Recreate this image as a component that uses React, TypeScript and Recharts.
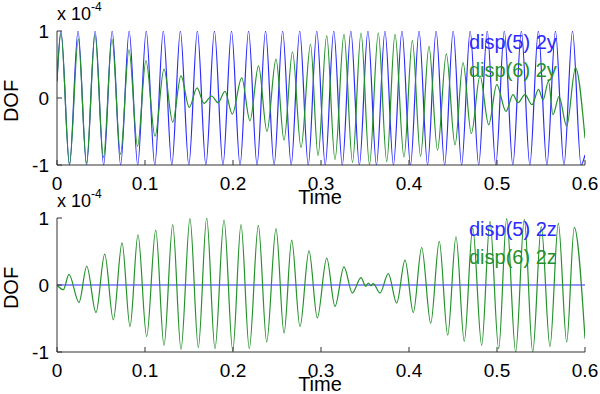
import { LineChart, Line, XAxis, YAxis, Legend, Label } from "recharts"

// time ticks / value ticks (values are in units of 1e-4)
const xTicks = [0, 0.1, 0.2, 0.3, 0.4, 0.5, 0.6]
const yTicks = [-1, 0, 1]

// top panel, disp(5) 2y: peaks and troughs
const topBlueT = [
  0, 0.0045, 0.0142, 0.0239, 0.0336, 0.0433, 0.053, 0.0627, 0.0723, 0.082, 0.0917,
  0.1014, 0.1111, 0.1208, 0.1305, 0.1402, 0.1498, 0.1595, 0.1692, 0.1789, 0.1886,
  0.1983, 0.208, 0.2177, 0.2273, 0.237, 0.2467, 0.2564, 0.2661, 0.2758, 0.2855,
  0.2952, 0.3048, 0.3145, 0.3242, 0.3339, 0.3436, 0.3533, 0.363, 0.3727, 0.3823,
  0.392, 0.4017, 0.4114, 0.4211, 0.4308, 0.4405, 0.4502, 0.4598, 0.4695, 0.4792,
  0.4889, 0.4986, 0.5083, 0.518, 0.5277, 0.5373, 0.547, 0.5567, 0.5664, 0.5761,
  0.5858, 0.5955, 0.6,
]
const topBlueV = [
  0.25, 1, -1, 1, -1, 1, -1, 1, -1, 1, -1,
  1, -1, 1, -1, 1, -1, 1, -1, 1, -1,
  1, -1, 1, -1, 1, -1, 1, -1, 1, -1,
  1, -1, 1, -1, 1, -1, 1, -1, 1, -1,
  1, -1, 1, -1, 1, -1, 1, -1, 1, -1,
  1, -1, 1, -1, 1, -1, 1, -1, 1, -1,
  1, -1, -0.85,
]

// top panel, disp(6) 2y
const topGreenT = [
  0, 0.0045, 0.0142, 0.0242, 0.0335, 0.0432, 0.0528, 0.0625, 0.0722, 0.0818, 0.0915,
  0.1011, 0.1114, 0.1216, 0.1315, 0.1409, 0.1503, 0.1591, 0.167, 0.1758, 0.183,
  0.1909, 0.1992, 0.2099, 0.2193, 0.229, 0.2386, 0.2489, 0.258, 0.2676, 0.2773,
  0.2881, 0.2966, 0.3065, 0.3159, 0.3261, 0.3358, 0.3455, 0.3551, 0.3651, 0.3747,
  0.3841, 0.3943, 0.4038, 0.4131, 0.4227, 0.4324, 0.4424, 0.4523, 0.4614, 0.4708,
  0.4807, 0.4906, 0.4997, 0.5102, 0.5182, 0.5239, 0.5318, 0.5398, 0.5472, 0.5523,
  0.5585, 0.5636, 0.5705, 0.5792, 0.5892, 0.6,
]
const topGreenV = [
  0.25, 0.97, -0.99, 0.88, -0.97, 0.94, -0.89, 0.88, -0.84, 0.72, -0.72,
  0.56, -0.57, 0.43, -0.36, 0.33, -0.14, 0.15, -0.08, 0.03, -0.07,
  0.1, -0.24, 0.3, -0.34, 0.48, -0.5, 0.58, -0.63, 0.69, -0.74,
  0.8, -0.86, 0.93, -0.92, 0.95, -0.96, 0.97, -0.99, 0.97, -0.95,
  0.95, -0.88, 0.86, -0.87, 0.77, -0.78, 0.66, -0.7, 0.53, -0.53,
  0.33, -0.4, 0.2, -0.2, 0.05, -0.07, 0.05, -0.1, 0.13, -0.03,
  0.25, -0.25, 0.02, -0.42, 0.45, -0.6,
]

// bottom panel, disp(5) 2z stays on zero
const bottomBlueT = [0, 0.6]
const bottomBlueV = [0, 0]

// bottom panel, disp(6) 2z
const bottomGreenT = [
  0, 0.0072, 0.0136, 0.025, 0.0338, 0.0443, 0.0542, 0.064, 0.0739, 0.083, 0.092,
  0.1019, 0.1122, 0.1216, 0.1315, 0.1409, 0.1511, 0.1606, 0.1701, 0.1795, 0.1898,
  0.1997, 0.2091, 0.2185, 0.2288, 0.2383, 0.2489, 0.258, 0.2667, 0.2761, 0.2864,
  0.2958, 0.3065, 0.3159, 0.3261, 0.3356, 0.3455, 0.3508, 0.3538, 0.3568, 0.3594,
  0.367, 0.3765, 0.386, 0.3955, 0.4049, 0.4144, 0.4247, 0.4344, 0.444, 0.4534,
  0.4628, 0.4724, 0.4826, 0.492, 0.5019, 0.511, 0.5212, 0.531, 0.5406, 0.5503,
  0.5602, 0.5697, 0.5792, 0.5878, 0.6,
]
const bottomGreenV = [
  0, -0.07, 0.16, -0.26, 0.28, -0.41, 0.46, -0.52, 0.63, -0.62, 0.75,
  -0.77, 0.82, -0.9, 0.9, -0.96, 0.99, -0.93, 1.0, -0.95, 0.97,
  -0.98, 0.9, -0.95, 0.89, -0.85, 0.84, -0.72, 0.67, -0.62, 0.51,
  -0.49, 0.4, -0.32, 0.27, -0.12, 0.11, -0.02, 0.03, -0.01, 0.02,
  -0.12, 0.17, -0.27, 0.37, -0.41, 0.56, -0.57, 0.65, -0.75, 0.72,
  -0.84, 0.85, -0.9, 0.95, -0.95, 0.99, -1.0, 0.98, -1.0, 0.87,
  -0.92, 0.92, -0.85, 0.86, -0.8,
]

type Pt = { t: number; v: number }

const zip = (ts: number[], vs: number[]): Pt[] => ts.map((t, i) => ({ t, v: vs[i] }))

const FONT = "'Liberation Sans', Arial, Helvetica, sans-serif"
const BLUE = "#2b2bff"
const GREEN = "#23922a"
const AXIS = "#333"

type PanelProps = {
  top: number
  height: number
  blue: Pt[]
  green: Pt[]
  blueName: string
  greenName: string
}

function Panel({ top, height, blue, green, blueName, greenName }: PanelProps) {
  const tickStyle = { fill: "#000", fontSize: 19, fontFamily: FONT }

  return (
    <div style={{ position: "absolute", left: 0, top }}>
      <LineChart width={600} height={height} margin={{ top: 31, right: 15, bottom: 0, left: 0 }}>
        <XAxis
          type="number"
          dataKey="t"
          domain={[0, 0.6]}
          ticks={xTicks}
          interval={0}
          allowDataOverflow
          height={height - 165}
          tickSize={-5}
          tickMargin={17}
          tick={tickStyle}
          axisLine={{ stroke: AXIS }}
          tickLine={{ stroke: AXIS }}
        >
          <Label
            content={() => (
              <text x={320} y={204} textAnchor="middle" fontSize={20} fontFamily={FONT} fill="#000">
                Time
              </text>
            )}
          />
        </XAxis>
        <YAxis
          type="number"
          domain={[-1, 1]}
          ticks={yTicks}
          interval={0}
          allowDataOverflow
          width={57}
          tickSize={-5}
          tickMargin={13}
          tick={tickStyle}
          axisLine={{ stroke: AXIS }}
          tickLine={{ stroke: AXIS }}
        >
          <Label
            content={() => (
              <text
                transform="translate(18,101) rotate(-90)"
                textAnchor="middle"
                fontSize={20}
                fontFamily={FONT}
                fill="#000"
              >
                DOF
              </text>
            )}
          />
          <Label
            content={() => (
              <text x={57} y={20} fontSize={18} fontFamily={FONT} fill="#000">
                x 10
                <tspan dy={-9} fontSize={12}>
                  -4
                </tspan>
              </text>
            )}
          />
        </YAxis>
        <Legend
          layout="vertical"
          align="center"
          verticalAlign="middle"
          wrapperStyle={{ left: 469, top: 28, width: 130 }}
          content={({ payload }) => (
            <div style={{ fontFamily: FONT, fontSize: 20 }}>
              {(payload ?? []).map((p) => (
                <div key={String(p.value)} style={{ color: p.color, lineHeight: "28px" }}>
                  {p.value}
                </div>
              ))}
            </div>
          )}
        />
        <Line
          data={blue}
          dataKey="v"
          name={blueName}
          type="monotone"
          stroke={BLUE}
          strokeWidth={1.2}
          dot={false}
          isAnimationActive={false}
        />
        <Line
          data={green}
          dataKey="v"
          name={greenName}
          type="monotone"
          stroke={GREEN}
          strokeWidth={1.2}
          dot={false}
          isAnimationActive={false}
        />
      </LineChart>
    </div>
  )
}

export default function App() {
  return (
    <div style={{ position: "absolute", left: 0, top: 0, width: 600, height: 394, background: "#fff" }}>
      <Panel
        top={0}
        height={215}
        blue={zip(topBlueT, topBlueV)}
        green={zip(topGreenT, topGreenV)}
        blueName="disp(5) 2y"
        greenName="disp(6) 2y"
      />
      <Panel
        top={187}
        height={207}
        blue={zip(bottomBlueT, bottomBlueV)}
        green={zip(bottomGreenT, bottomGreenV)}
        blueName="disp(5) 2z"
        greenName="disp(6) 2z"
      />
    </div>
  )
}
